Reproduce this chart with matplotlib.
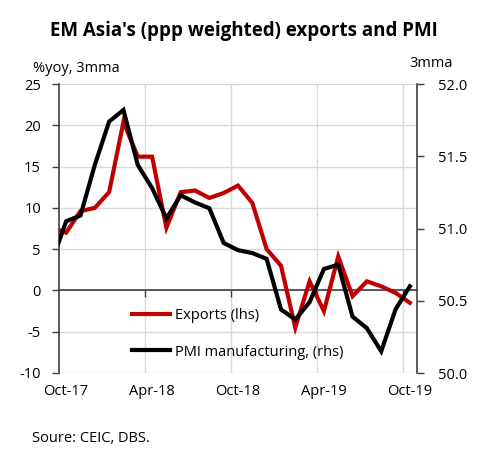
import matplotlib
matplotlib.use("Agg")
import matplotlib.pyplot as plt
import numpy as np

plt.rcParams['font.family'] = ['Open Sans', 'DejaVu Sans']

# Months from Sep-17 to Oct-19 (Sep-17 lies just left of the visible axis)
months = ['Sep-17', 'Oct-17', 'Nov-17', 'Dec-17', 'Jan-18', 'Feb-18', 'Mar-18', 'Apr-18',
          'May-18', 'Jun-18', 'Jul-18', 'Aug-18', 'Sep-18', 'Oct-18', 'Nov-18', 'Dec-18',
          'Jan-19', 'Feb-19', 'Mar-19', 'Apr-19', 'May-19', 'Jun-19', 'Jul-19', 'Aug-19',
          'Sep-19', 'Oct-19']
exports = [7.6, 7.0, 9.6, 10.0, 11.9, 20.4, 16.2, 16.2, 7.6, 11.9, 12.1, 11.2, 11.8,
           12.7, 10.6, 5.0, 3.0, -4.5, 1.1, -2.5, 4.1, -0.7, 1.1, 0.5, -0.3, -1.5]
pmi = [50.77, 51.05, 51.09, 51.44, 51.74, 51.82, 51.44, 51.28, 51.07, 51.23, 51.18,
       51.14, 50.90, 50.85, 50.83, 50.79, 50.44, 50.37, 50.49, 50.72, 50.75, 50.39,
       50.31, 50.15, 50.44, 50.60]
xtick_labels = ['Oct-17', 'Apr-18', 'Oct-18', 'Apr-19', 'Oct-19']
left_ticks = [-10, -5, 0, 5, 10, 15, 20, 25]
right_ticks = [50.0, 50.5, 51.0, 51.5, 52.0]

# month-centre positions, Oct-17 start = 0
x = np.arange(len(months)) - 1 + 0.5
label_pos = [months.index(m) - 1 + 0.5 for m in xtick_labels]
grid_pos = [6, 12, 18, 24]

W, H = 498, 469
FS = 10.5
fig = plt.figure(figsize=(W / 100, H / 100), dpi=100)
ax = fig.add_axes([59 / W, 1 - 373 / H, (417 - 59) / W, (373 - 84) / H])
ax2 = ax.twinx()

RED = '#C00000'
GRID = '#D9D9D9'
AXC = '#404040'

l1, = ax.plot(x, exports, color=RED, lw=3.0, solid_joinstyle='miter', label='Exports (lhs)', zorder=3)
l2, = ax2.plot(x, pmi, color='black', lw=3.0, solid_joinstyle='miter', label='PMI manufacturing, (rhs)', zorder=3)

ax.set_xlim(0, 25)
ax.set_ylim(-10, 25)
ax2.set_ylim(50.0, 52.0)

# gridlines
ax.set_yticks(left_ticks)
ax.set_yticklabels([str(t) for t in left_ticks])
for t in left_ticks:
    ax.axhline(t, color=GRID, lw=1.0, zorder=0)
for g in grid_pos:
    ax.axvline(g, color=GRID, lw=1.0, zorder=0)

# spines
for s in ['top', 'right']:
    ax.spines[s].set_visible(False)
for s in ['top', 'bottom', 'left']:
    ax2.spines[s].set_visible(False)
ax.spines['left'].set_color(AXC)
ax.spines['left'].set_linewidth(1.2)
ax2.spines['right'].set_color(AXC)
ax2.spines['right'].set_linewidth(1.2)
ax.spines['bottom'].set_position(('data', 0))
ax.spines['bottom'].set_color(AXC)
ax.spines['bottom'].set_linewidth(1.2)

ax.set_xticks(grid_pos)
ax.tick_params(axis='x', labelbottom=False, length=5, width=1.0, color=AXC, direction='out')
ax.tick_params(axis='y', length=5, width=1.0, color=AXC, pad=8, labelsize=FS, labelcolor='black')

sec = ax.secondary_xaxis('bottom')
sec.set_xticks(label_pos)
sec.set_xticklabels(xtick_labels)
sec.tick_params(length=0, pad=8, labelsize=FS)
sec.spines['bottom'].set_visible(False)

ax2.set_yticks(right_ticks)
ax2.set_yticklabels(['%.1f' % t for t in right_ticks])
ax2.tick_params(axis='y', length=5, width=1.0, color=AXC, pad=10, labelsize=FS)

# texts
fig.text(244 / W, 1 - 36 / H, "EM Asia's (ppp weighted) exports and PMI", ha='center', va='baseline',
         fontsize=13.5, fontweight='bold')
fig.text(33 / W, 1 - 72.5 / H, '%yoy, 3mma', ha='left', va='baseline', fontsize=FS)
fig.text(453 / W, 1 - 67 / H, '3mma', ha='right', va='baseline', fontsize=FS)
fig.text(32 / W, 1 - 442 / H, 'Soure: CEIC, DBS.', ha='left', va='baseline', fontsize=FS)

fig.legend(handles=[l1, l2], loc='center left', bbox_to_anchor=(132 / W, 1 - 334 / H),
           frameon=False, fontsize=FS, handlelength=2.6, handletextpad=0.35,
           labelspacing=1.45, borderpad=0, borderaxespad=0)

fig.savefig('out.png', dpi=100)
